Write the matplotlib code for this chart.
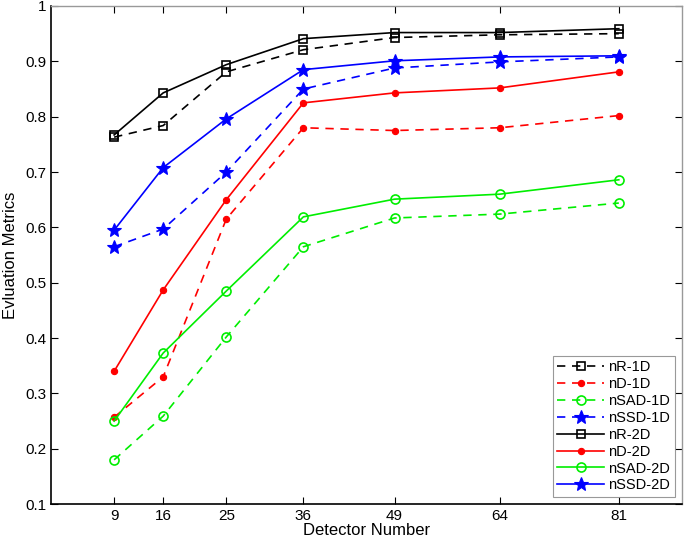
import matplotlib
matplotlib.use("Agg")
import matplotlib.pyplot as plt

plt.rcParams['font.family'] = ['Liberation Sans', 'DejaVu Sans']

# detector numbers on x axis
detectors = [9, 16, 25, 36, 49, 64, 81]

# 1D metrics (dashed)
nR_1D = [0.763, 0.784, 0.881, 0.921, 0.943, 0.948, 0.950]
nD_1D = [0.257, 0.330, 0.615, 0.780, 0.775, 0.780, 0.802]
nSAD_1D = [0.180, 0.259, 0.402, 0.565, 0.617, 0.624, 0.644]
nSSD_1D = [0.565, 0.597, 0.700, 0.850, 0.888, 0.899, 0.908]

# 2D metrics (solid)
nR_2D = [0.767, 0.843, 0.894, 0.941, 0.952, 0.952, 0.959]
nD_2D = [0.340, 0.487, 0.650, 0.825, 0.843, 0.852, 0.881]
nSAD_2D = [0.250, 0.373, 0.485, 0.619, 0.651, 0.660, 0.686]
nSSD_2D = [0.595, 0.708, 0.796, 0.885, 0.901, 0.908, 0.910]

fig = plt.figure(figsize=(6.85, 5.45), dpi=100)
ax = fig.add_axes([0.0745, 0.075, 0.921, 0.914])

lw = 1.2
dash = (0, (5, 4))
# dashed (1D)
ax.plot(detectors, nR_1D, ls=dash, color='k', lw=lw, marker='s', ms=5.5, mfc='none', mew=1.2, label='nR-1D')
ax.plot(detectors, nD_1D, ls=dash, color='r', lw=lw, marker='o', ms=4.5, mfc='r', mew=0.8, label='nD-1D')
ax.plot(detectors, nSAD_1D, ls=dash, color='#00ee00', lw=lw, marker='o', ms=6.5, mfc='none', mew=1.2, label='nSAD-1D')
ax.plot(detectors, nSSD_1D, ls=dash, color='b', lw=lw, marker='*', ms=10, mfc='b', mew=0.8, label='nSSD-1D')
# solid (2D)
ax.plot(detectors, nR_2D, '-', color='k', lw=lw, marker='s', ms=5.5, mfc='none', mew=1.2, label='nR-2D')
ax.plot(detectors, nD_2D, '-', color='r', lw=lw, marker='o', ms=4.5, mfc='r', mew=0.8, label='nD-2D')
ax.plot(detectors, nSAD_2D, '-', color='#00ee00', lw=lw, marker='o', ms=6.5, mfc='none', mew=1.2, label='nSAD-2D')
ax.plot(detectors, nSSD_2D, '-', color='b', lw=lw, marker='*', ms=10, mfc='b', mew=0.8, label='nSSD-2D')

ax.set_xlim(0, 90)
ax.set_ylim(0.1, 1)
ax.set_xticks(detectors)
ax.set_yticks([0.1, 0.2, 0.3, 0.4, 0.5, 0.6, 0.7, 0.8, 0.9, 1])
ax.set_yticklabels(['0.1', '0.2', '0.3', '0.4', '0.5', '0.6', '0.7', '0.8', '0.9', '1'])
ax.tick_params(direction='in', top=True, right=True, labelsize=11, length=5, width=0.8)

for s in ['top', 'right']:
    ax.spines[s].set_color('0.6')
    ax.spines[s].set_linewidth(1.0)
for s in ['left', 'bottom']:
    ax.spines[s].set_linewidth(1.2)

ax.set_xlabel('Detector Number', fontsize=12, labelpad=0)
ax.set_ylabel('Evluation Metrics', fontsize=12, labelpad=5)

leg = ax.legend(loc='lower right', fontsize=10.5, frameon=True, fancybox=False,
                edgecolor='0.5', handlelength=3.2, borderpad=0.3, labelspacing=0.2,
                handletextpad=0.3, borderaxespad=0.5)
leg.get_frame().set_linewidth(0.8)

fig.savefig('out.png', dpi=100)
